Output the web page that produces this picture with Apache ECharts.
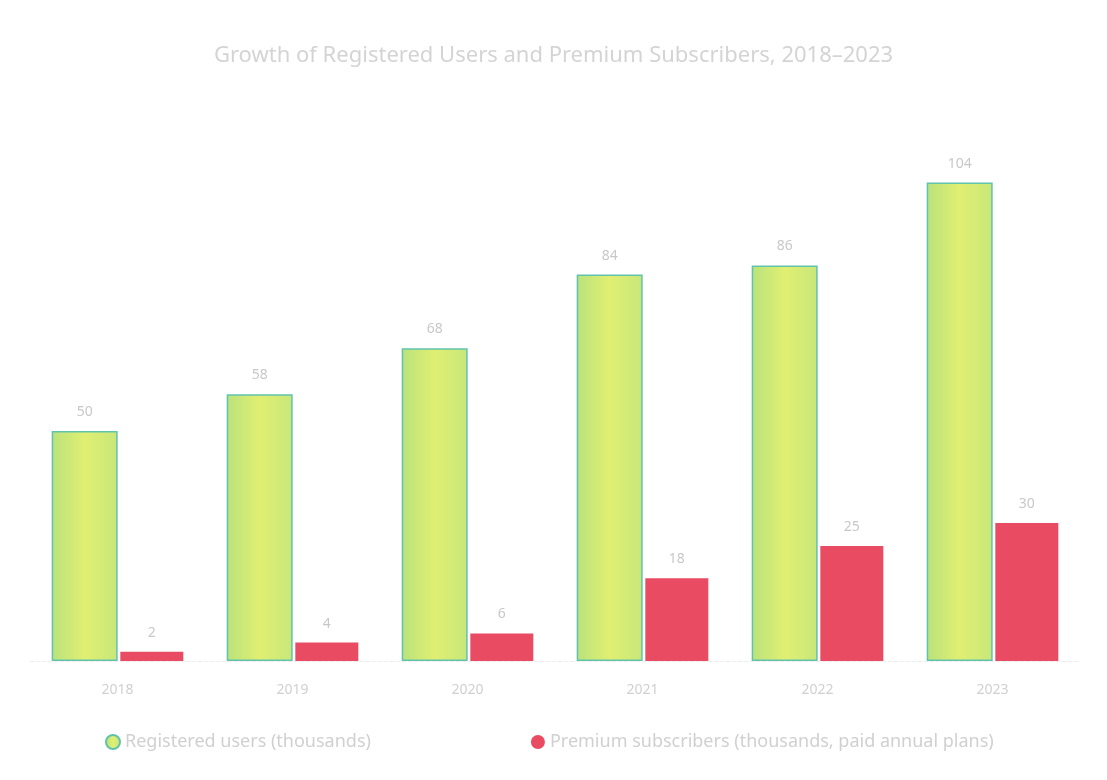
<!DOCTYPE html>
<html>
<head>
<meta charset="utf-8">
<script src="https://cdn.jsdelivr.net/npm/echarts@6/dist/echarts.min.js"></script>
<style>html,body{margin:0;padding:0;background:#fff}#c{width:1107px;height:780px}</style>
</head>
<body>
<div id="c"></div>
<script>
const categories = ['2018', '2019', '2020', '2021', '2022', '2023'];
const seriesNames = ['Registered users (thousands)', 'Premium subscribers (thousands, paid annual plans)'];
const usersValues = [50, 58, 68, 84, 86, 104];
const premiumValues = [2, 4, 6, 18, 25, 30];
const titleText = 'Growth of Registered Users and Premium Subscribers, 2018–2023';

const chart = echarts.init(document.getElementById('c'));
chart.setOption({
  backgroundColor: '#ffffff',
  animation: false,
  title: {
    text: titleText,
    left: 'center',
    top: 40,
    textStyle: { color: '#d4d4d4', fontSize: 22, fontWeight: 'normal', fontFamily: 'Noto Sans' }
  },
  legend: {
    bottom: 24,
    left: 100,
    itemGap: 160,
    icon: 'circle',
    itemWidth: 14,
    itemHeight: 14,
    textStyle: { color: '#d0d0d0', fontSize: 18, fontFamily: 'Noto Sans' },
    data: seriesNames
  },
  grid: { left: 30, right: 27, top: 155, bottom: 119, containLabel: false },
  xAxis: {
    type: 'category',
    data: categories,
    axisLine: { lineStyle: { color: '#eeeeee', type: 'dashed' } },
    axisTick: { show: false },
    axisLabel: { color: '#d0d0d0', fontSize: 14, margin: 22, fontFamily: 'Noto Sans' }
  },
  yAxis: {
    type: 'value',
    min: 0,
    max: 110,
    show: false,
    splitLine: { show: false }
  },
  series: [
    {
      name: seriesNames[0],
      type: 'bar',
      data: usersValues,
      barWidth: 66,
      barGap: '4%',
      itemStyle: {
        color: {
          type: 'linear', x: 0, y: 0, x2: 1, y2: 0,
          colorStops: [
            { offset: 0, color: '#b9e27c' },
            { offset: 0.5, color: '#e0ef72' },
            { offset: 1, color: '#c8e77a' }
          ]
        },
        borderColor: '#62c3ad',
        borderWidth: 1.5
      },
      label: { show: true, position: 'top', color: '#c8c8c8', fontSize: 14, distance: 12, fontFamily: 'Noto Sans' }
    },
    {
      name: seriesNames[1],
      type: 'bar',
      data: premiumValues,
      barWidth: 63,
      itemStyle: { color: '#e84b62' },
      label: { show: true, position: 'top', color: '#c8c8c8', fontSize: 14, distance: 12, fontFamily: 'Noto Sans' }
    }
  ]
});
</script>
</body>
</html>
